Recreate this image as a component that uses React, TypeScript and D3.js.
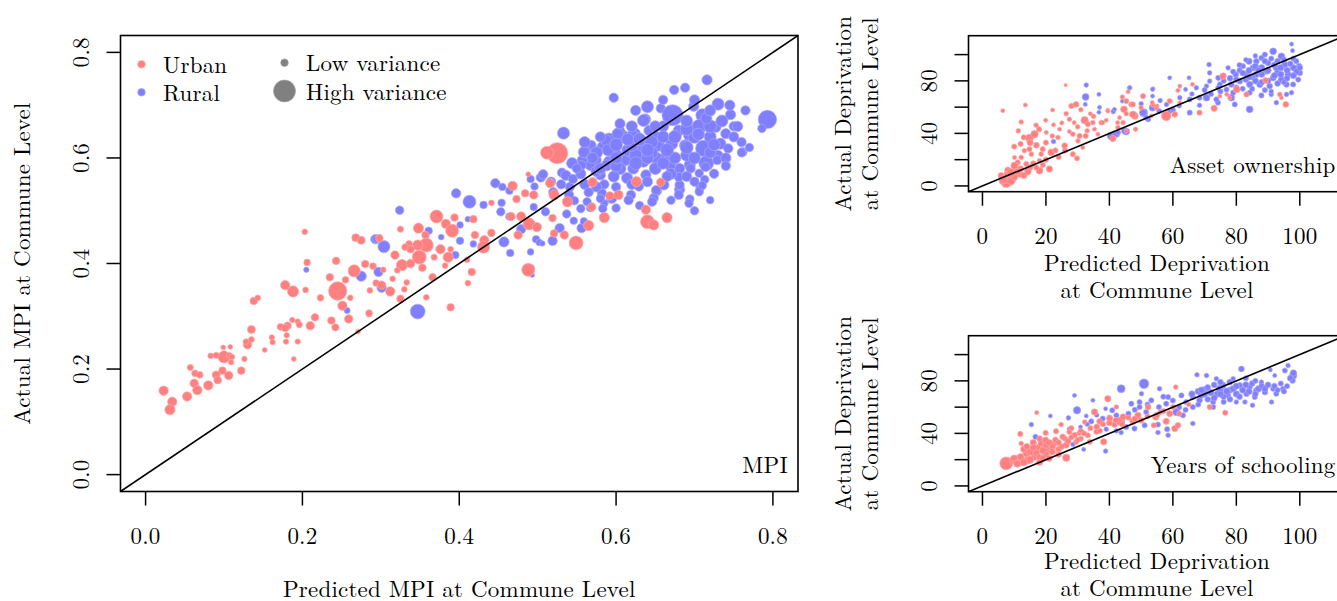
import React from "react";
import * as d3 from "d3";

// [predicted, actual, variance(0..1)]
const mpiUrban: number[][] = [
  [0.203,0.46,0.1],[0.268,0.449,0.22],[0.275,0.444,0.22],[0.206,0.402,0.15],[0.243,0.405,0.2],
  [0.28,0.399,0.2],[0.29,0.395,0.15],[0.266,0.386,0.45],[0.178,0.359,0.3],[0.188,0.347,0.4],
  [0.204,0.35,0.1],[0.235,0.374,0.2],[0.255,0.369,0.15],[0.245,0.348,0.8],[0.223,0.335,0.15],
  [0.261,0.335,0.1],[0.251,0.32,0.3],[0.259,0.295,0.25],[0.285,0.304,0.1],[0.294,0.363,0.15],
  [0.286,0.349,0.1],[0.271,0.271,0.05],[0.138,0.329,0.2],[0.143,0.335,0.1],[0.135,0.275,0.22],
  [0.13,0.246,0.25],[0.128,0.252,0.1],[0.135,0.256,0.1],[0.187,0.293,0.08],[0.194,0.29,0.08],
  [0.196,0.284,0.12],[0.181,0.282,0.2],[0.172,0.28,0.15],[0.178,0.278,0.2],[0.18,0.264,0.08],
  [0.161,0.26,0.08],[0.162,0.251,0.08],[0.179,0.252,0.08],[0.194,0.252,0.08],[0.152,0.236,0.05],
  [0.189,0.219,0.05],[0.216,0.298,0.2],[0.21,0.282,0.25],[0.237,0.292,0.2],[0.242,0.279,0.18],
  [0.1,0.223,0.45],[0.083,0.225,0.1],[0.09,0.226,0.12],[0.099,0.241,0.05],[0.108,0.242,0.05],
  [0.107,0.226,0.1],[0.11,0.223,0.1],[0.109,0.213,0.08],[0.126,0.219,0.08],[0.122,0.197,0.2],
  [0.106,0.188,0.25],[0.098,0.197,0.2],[0.09,0.189,0.22],[0.092,0.179,0.2],[0.057,0.203,0.12],
  [0.063,0.192,0.15],[0.069,0.189,0.15],[0.062,0.173,0.25],[0.066,0.16,0.3],[0.08,0.169,0.3],
  [0.053,0.148,0.3],[0.023,0.159,0.3],[0.034,0.138,0.3],[0.031,0.123,0.35],
  [0.525,0.609,0.95],[0.512,0.61,0.5],[0.488,0.569,0.05],[0.468,0.547,0.3],[0.516,0.552,0.3],
  [0.495,0.53,0.25],[0.484,0.533,0.2],[0.521,0.53,0.35],[0.473,0.522,0.2],[0.538,0.517,0.35],
  [0.441,0.515,0.1],[0.466,0.489,0.25],[0.479,0.489,0.3],[0.519,0.486,0.2],[0.489,0.475,0.45],
  [0.499,0.469,0.3],[0.475,0.454,0.25],[0.521,0.457,0.2],[0.534,0.454,0.25],[0.549,0.439,0.55],
  [0.488,0.388,0.5],[0.371,0.489,0.5],[0.394,0.487,0.2],[0.383,0.475,0.3],[0.418,0.484,0.2],
  [0.391,0.462,0.5],[0.348,0.467,0.35],[0.357,0.454,0.2],[0.325,0.465,0.12],[0.358,0.435,0.55],
  [0.347,0.435,0.35],[0.349,0.412,0.55],[0.336,0.437,0.15],[0.331,0.431,0.15],[0.338,0.427,0.2],
  [0.318,0.416,0.25],[0.327,0.397,0.4],[0.338,0.4,0.25],[0.376,0.427,0.3],[0.386,0.412,0.35],
  [0.389,0.427,0.1],[0.368,0.412,0.12],[0.42,0.454,0.2],[0.432,0.444,0.3],[0.431,0.431,0.45],
  [0.441,0.458,0.2],[0.41,0.407,0.1],[0.416,0.384,0.2],[0.411,0.363,0.1],[0.389,0.317,0.2],
  [0.358,0.336,0.1],[0.366,0.374,0.2],[0.353,0.392,0.2],[0.382,0.396,0.1],[0.303,0.388,0.1],
  [0.321,0.387,0.1],[0.315,0.371,0.1],[0.333,0.364,0.1],[0.301,0.359,0.25],[0.312,0.347,0.3],
  [0.325,0.333,0.2],[0.33,0.351,0.1],[0.298,0.448,0.2],[0.285,0.306,0.15],
  [0.57,0.554,0.3],[0.626,0.555,0.35],[0.657,0.554,0.25],[0.592,0.528,0.25],[0.603,0.53,0.3],
  [0.569,0.507,0.25],[0.638,0.502,0.3],[0.64,0.479,0.55],[0.648,0.473,0.35],[0.665,0.487,0.35],
  [0.585,0.487,0.35],[0.565,0.472,0.35]
];

const mpiRural: number[][] = [
  [0.205,0.388,0.08],[0.275,0.376,0.35],[0.257,0.311,0.12],[0.293,0.446,0.3],[0.297,0.384,0.3],
  [0.413,0.517,0.5],[0.396,0.533,0.3],[0.324,0.501,0.25],[0.446,0.552,0.3],[0.455,0.545,0.2],
  [0.464,0.538,0.2],[0.431,0.511,0.2],[0.454,0.515,0.2],[0.453,0.498,0.25],[0.464,0.489,0.2],
  [0.479,0.465,0.3],[0.457,0.441,0.35],[0.465,0.42,0.2],[0.491,0.422,0.15],[0.498,0.446,0.2],
  [0.502,0.44,0.15],[0.519,0.443,0.3],[0.528,0.467,0.3],[0.51,0.498,0.25],[0.495,0.507,0.2],
  [0.537,0.494,0.25],[0.546,0.481,0.2],[0.556,0.467,0.3],[0.493,0.378,0.05],[0.491,0.391,0.2],
  [0.411,0.484,0.1],[0.401,0.473,0.15],[0.377,0.45,0.1],[0.361,0.462,0.2],[0.401,0.443,0.2],
  [0.418,0.437,0.15],[0.395,0.416,0.2],[0.304,0.432,0.45],[0.294,0.446,0.2],[0.301,0.354,0.3],
  [0.347,0.309,0.6],[0.504,0.563,0.3],[0.491,0.56,0.2],[0.496,0.546,0.2],[0.531,0.572,0.3],
  [0.541,0.545,0.3],[0.547,0.519,0.25],[0.555,0.504,0.25],[0.506,0.438,0.08],
  [0.597,0.714,0.3],[0.716,0.748,0.35],[0.688,0.733,0.3],[0.674,0.729,0.3],[0.793,0.673,0.8],
  [0.786,0.656,0.25],[0.64,0.697,0.45],[0.657,0.694,0.3],[0.672,0.681,0.95],[0.699,0.698,0.35],
  [0.73,0.702,0.45],[0.746,0.682,0.35],[0.637,0.673,0.4],[0.71,0.681,0.5],[0.727,0.659,0.4],
  [0.74,0.646,0.35],[0.706,0.659,0.6],[0.693,0.643,0.4],[0.68,0.652,0.4],[0.651,0.64,0.4],
  [0.642,0.652,0.35],[0.624,0.646,0.4],[0.61,0.64,0.45],[0.591,0.634,0.55],[0.605,0.65,0.35],
  [0.583,0.621,0.4],[0.568,0.624,0.35],[0.561,0.615,0.35],[0.557,0.596,0.35],[0.574,0.596,0.4],
  [0.591,0.593,0.4],[0.611,0.596,0.45],[0.615,0.615,0.45],[0.633,0.621,0.45],[0.654,0.624,0.45],
  [0.671,0.627,0.45],[0.688,0.624,0.4],[0.712,0.618,0.7],[0.733,0.627,0.4],[0.743,0.618,0.3],
  [0.761,0.611,0.3],[0.73,0.605,0.35],[0.715,0.59,0.6],[0.694,0.587,0.4],[0.681,0.58,0.35],
  [0.669,0.586,0.4],[0.652,0.599,0.45],[0.635,0.593,0.4],[0.622,0.58,0.4],[0.605,0.58,0.45],
  [0.588,0.586,0.4],[0.567,0.586,0.35],[0.556,0.586,0.3],[0.58,0.568,0.35],[0.597,0.565,0.4],
  [0.614,0.562,0.4],[0.638,0.568,0.35],[0.661,0.549,0.35],[0.706,0.571,0.25],[0.713,0.559,0.25],
  [0.707,0.543,0.25],[0.681,0.54,0.35],[0.681,0.549,0.3],[0.694,0.522,0.25],[0.652,0.537,0.3],
  [0.648,0.524,0.3],[0.629,0.546,0.3],[0.619,0.53,0.3],[0.593,0.522,0.25],[0.582,0.533,0.3],
  [0.563,0.517,0.25],[0.567,0.505,0.2],[0.585,0.514,0.2],[0.559,0.48,0.2],
  [0.533,0.647,0.45],[0.507,0.569,0.3],[0.517,0.555,0.3],[0.536,0.567,0.35],[0.544,0.59,0.4],
  [0.559,0.611,0.4],[0.587,0.634,0.4],[0.602,0.646,0.4],[0.621,0.643,0.4],[0.635,0.671,0.45],
  [0.729,0.596,0.3],[0.714,0.583,0.3],[0.695,0.58,0.3],[0.68,0.564,0.3],[0.693,0.514,0.25],
  [0.68,0.53,0.3],[0.706,0.536,0.25],[0.71,0.548,0.25],[0.651,0.539,0.3],[0.646,0.517,0.3],
  [0.616,0.52,0.3],[0.583,0.504,0.25],[0.595,0.523,0.3],[0.58,0.523,0.25],
  [0.6,0.605,0.5],[0.625,0.605,0.5],[0.645,0.61,0.5],[0.665,0.605,0.45],[0.69,0.605,0.45],
  [0.7,0.64,0.5],[0.72,0.64,0.45],[0.575,0.575,0.4],[0.62,0.625,0.5],[0.66,0.66,0.4],
  [0.75,0.66,0.3],[0.76,0.63,0.3],[0.765,0.69,0.3],[0.585,0.55,0.3],[0.6,0.545,0.3],
  [0.65,0.58,0.45],[0.67,0.57,0.4],
  [0.56,0.63,0.4],[0.575,0.61,0.45],[0.59,0.615,0.45],[0.6,0.625,0.5],[0.615,0.635,0.45],
  [0.63,0.635,0.5],[0.645,0.63,0.5],[0.66,0.64,0.45],[0.675,0.64,0.5],[0.69,0.655,0.5],
  [0.705,0.645,0.45],[0.72,0.66,0.5],[0.735,0.67,0.45],[0.715,0.675,0.4],[0.69,0.67,0.45],
  [0.65,0.66,0.4],[0.62,0.66,0.4],[0.605,0.665,0.35],[0.58,0.64,0.35],[0.57,0.6,0.4],
  [0.6,0.585,0.45],[0.625,0.59,0.5],[0.64,0.6,0.45],[0.66,0.59,0.45],[0.675,0.6,0.45],
  [0.7,0.6,0.45],[0.72,0.61,0.4],[0.74,0.6,0.35],[0.75,0.64,0.35],[0.725,0.625,0.45],
  [0.69,0.62,0.5],[0.665,0.615,0.5],[0.64,0.615,0.5],[0.6,0.6,0.45],[0.58,0.58,0.4],
  [0.555,0.57,0.35],[0.545,0.56,0.3],[0.53,0.55,0.3],[0.52,0.535,0.3],[0.54,0.53,0.3],
  [0.56,0.55,0.35],[0.575,0.545,0.35],[0.62,0.55,0.35],[0.64,0.555,0.35],[0.665,0.565,0.35],
  [0.69,0.565,0.35],[0.7,0.555,0.3],[0.725,0.57,0.3],[0.74,0.585,0.3],[0.72,0.69,0.4],
  [0.745,0.7,0.35],[0.7,0.71,0.35],[0.66,0.71,0.3],[0.625,0.69,0.35],[0.55,0.58,0.3],
  [0.565,0.535,0.3],[0.6,0.505,0.25],[0.63,0.51,0.25],[0.67,0.52,0.25],[0.7,0.5,0.25],
  [0.72,0.52,0.2],[0.755,0.66,0.35],[0.76,0.61,0.25],[0.77,0.62,0.25]
];

const assetUrban: number[][] = [
  [6.4,57.3,0.1],[26.2,76.8,0.02],[13.5,61.6,0.1],[12.2,48.7,0.15],[11.3,41.9,0.15],[16.9,46.2,0.15],
  [17.8,43.2,0.2],[14.8,36.4,0.45],[16.4,39.4,0.4],[19.9,50,0.1],[22.1,57.8,0.1],[22.4,46.5,0.1],
  [20.1,40.7,0.1],[24.3,43.2,0.1],[27.4,41.4,0.1],[26.4,55,0.15],[28,60.9,0.2],[29.5,62.1,0.25],
  [27.4,50.8,0.15],[28.9,48.2,0.1],[23.8,36.9,0.15],[25.9,30.6,0.25],[28.5,39.4,0.15],[30.6,38.1,0.2],
  [32.5,38.1,0.2],[30.1,34.3,0.15],[32.2,50,0.4],[33.2,47,0.2],[34.8,48.2,0.15],[37.4,48.2,0.15],
  [35.3,43.2,0.1],[36.4,39.4,0.1],[31.6,29.3,0.1],[28.5,24.2,0.2],[29.8,21,0.2],[21.7,25.5,0.35],
  [18.5,24.2,0.15],[14.8,28,0.2],[13.2,26.8,0.15],[15.4,24.2,0.15],[12.2,21.7,0.15],[10.1,21.7,0.1],
  [11.1,17.9,0.2],[13.8,16.7,0.2],[18,19.2,0.15],[18,11.6,0.35],[14.3,10.9,0.35],[11.7,9.1,0.3],
  [10.1,15.4,0.4],[8.5,6.6,0.9],[7.5,2.8,0.7],[6.4,4,0.4],[5.9,7.8,0.3],[21.1,12.9,0.3],
  [39.5,57.6,0.1],[44.1,67.7,0.15],[44.6,58.3,0.35],[45.3,64.6,0.2],[45.9,71.7,0.1],[46.9,62.1,0.2],
  [48,53.3,0.35],[50.6,68.4,0.2],[50,59.6,0.15],[44.3,48.2,0.15],[42.7,44.4,0.15],[45.3,41.9,0.1],
  [48.2,43.2,0.1],[53.7,61.6,0.15],[53.2,53.3,0.1],[55,60.9,0.1],[39,50,0.1],[43.2,52,0.1],
  [75.8,83.6,0.3],[80.1,73.5,0.35],[83.2,69.7,0.2],[89.2,80.3,0.25],[94.2,67.2,0.1],[95.6,62.1,0.25],
  [73,59.1,0.3],[68.4,55.8,0.2],[62.2,76,0.1],[66.2,77.3,0.1],[62.2,63.4,0.1],[59,64.6,0.2],
  [61.6,72.7,0.1],[57.9,53.3,0.6],[60.6,54.5,0.25],[47.4,62.1,0.2],[47.4,54.5,0.35],[45.3,55,0.15],
  [39.5,57,0.1],[37.9,48.2,0.1],[42.6,48.2,0.1],[41.1,36.1,0.3],[48.3,43.2,0.1],[77,69.7,0.1],
  [78,67.2,0.1],[74.8,68.4,0.1],[93.7,69.7,0.15],[53.5,63.4,0.1],[54.8,59.1,0.1],
  [7,5,0.5],[8,9,0.4],[9,4,0.5],[10,7,0.4],[8,12,0.3],[12,13,0.3],[13,8,0.3],[9,10,0.5],
  [11,11,0.3],[15,14,0.25],[16,17,0.25],[17,14,0.2],[19,16,0.2],[20,20,0.2],[19,28,0.2],
  [23,27,0.2],[24,22,0.2],[26,27,0.2],[17,31,0.25],[15,33,0.3],[20,33,0.2],[22,38,0.15],
  [13,37,0.2],[10,30,0.2],[12,32,0.2],[25,48,0.1],[30,45,0.15],[33,42,0.15],[35,53,0.15],
  [34,55,0.1],[31,58,0.15]
];

const assetRural: number[][] = [
  [32.7,76.8,0.15],[32.5,67.7,0.35],[32.4,62.1,0.1],[36.7,69.7,0.1],[36.9,59.8,0.1],[36.7,56.1,0.1],
  [41.2,56.6,0.15],[18,42.7,0.1],[22.4,33.8,0.15],[40.6,38.1,0.45],[42.2,39.4,0.3],[45.3,41.4,0.35],
  [46.4,74.7,0.15],[44.1,64.6,0.1],[50,62.6,0.15],[50.8,55.8,0.45],[52.2,50.8,0.2],[53.5,59.6,0.2],
  [53.7,74,0.1],
  [97.4,108,0.1],[97.7,103,0.1],[91.6,102.5,0.35],[94.2,98.7,0.35],[98.9,95,0.2],[99.8,91.2,0.25],
  [100,86.1,0.25],[99.5,81,0.2],[97.9,77.3,0.2],[96.3,84.8,0.3],[95.3,92.4,0.3],[92.6,89.9,0.3],
  [90,93.7,0.25],[87.9,97.5,0.2],[86.3,94.9,0.25],[84,94.9,0.3],[85.3,89.9,0.3],[82.1,91.2,0.2],
  [79.8,84.8,0.25],[83.2,84.8,0.3],[86.3,84.8,0.3],[89.5,87.4,0.3],[91.6,82.3,0.3],[94.2,81,0.3],
  [95.8,77.3,0.25],[90.5,76,0.25],[87.4,77.3,0.3],[84.2,77.3,0.3],[81.1,79.8,0.25],[78.4,77.3,0.25],
  [74.8,77.3,0.2],[71.6,79.8,0.15],[71.6,86.1,0.15],[71.4,92.4,0.15],[77.4,89.9,0.15],[74.3,82.3,0.2],
  [67.4,74.7,0.15],[64,73.5,0.1],[59,82.3,0.1],[65.1,82.3,0.1],[70.6,76,0.15],[74.3,74.7,0.2],
  [76.9,73.5,0.2],[79,71,0.2],[84.2,71,0.2],[87.9,68.9,0.2],[91,69.7,0.15],[95.8,69.7,0.15],
  [97.4,71,0.15],[92.6,63.4,0.15],[84.2,58.3,0.35],[79.5,62.1,0.2],[78.4,67.2,0.35],[74.2,63.4,0.2],
  [73.7,65.9,0.2],[70.6,67.2,0.35],[68.4,67.2,0.2],[65.3,65.9,0.2],[62.2,67.2,0.15],[68.4,61.4,0.15],
  [65.3,55.8,0.2],[59,57,0.2],[55.7,57,0.2],[53.6,59.6,0.35],[50.6,55.8,0.35],[51.6,52,0.2],
  [53.6,68.4,0.1],[46.4,74.7,0.1],[53.6,73.5,0.1],[41.6,58.3,0.1],[42.7,40.7,0.2],[44.8,41.9,0.3],
  [88,90,0.3],[93,86,0.3],[81,88,0.2],[76,80,0.2],
  [82,86,0.25],[84,88,0.3],[86,91,0.3],[88,85,0.3],[90,88,0.3],[92,92,0.3],[94,90,0.3],[96,88,0.3],
  [98,90,0.3],[99,87,0.3],[97,93,0.25],[95,96,0.25],[93,95,0.25],[91,97,0.2],[89,95,0.25],[87,88,0.3],
  [85,83,0.3],[83,81,0.25],[80,81,0.25],[78,82,0.25],[76,84,0.2],[79,87,0.2],[81,92,0.2],[83,96,0.15],
  [86,99,0.15],[89,100,0.2],[92,84,0.3],[94,85,0.3],[96,82,0.25],[98,84,0.3],[100,90,0.25],[98,97,0.2],
  [90,80,0.25],[88,79,0.25],[86,80,0.3],[84,83,0.3],[95,79,0.2],[93,78,0.25],[70,73,0.2],[72,70,0.2],
  [75,72,0.2],[66,70,0.15],[62,61,0.15],[58,62,0.15],[56,65,0.15],[60,58,0.2],[80,75,0.2],[82,74,0.2],
  [85,74,0.2],[89,73,0.2],[91,72,0.15]
];

const schoolUrban: number[][] = [
  [7.5,17.2,0.9],[9.6,19.7,0.4],[11.9,39.6,0.2],[12.2,32.3,0.15],[13.8,24.7,0.35],[14.3,19.7,0.45],
  [16.4,22.2,0.35],[17.5,28.5,0.45],[18.5,32.3,0.3],[17.1,55.8,0.1],[19.9,40.4,0.2],[19.9,34.8,0.3],
  [21.1,27.3,0.35],[22.7,32.3,0.25],[23.2,41.7,0.2],[24.8,46.7,0.15],[25.3,37.4,0.25],[26.4,31.1,0.3],
  [26.4,21.5,0.4],[27.4,41.2,0.2],[29,38.6,0.25],[29.5,33.6,0.2],[30.6,40.4,0.2],[32.2,48.7,0.15],
  [33.2,38.6,0.2],[33.8,33.6,0.2],[35.3,56.3,0.3],[35.9,41.2,0.2],[36.9,49.2,0.25],[38.2,33.6,0.3],
  [39.5,66.4,0.3],[40.1,51.3,0.3],[41.6,46.7,0.25],[42.2,60.1,0.15],[43.2,49.2,0.45],[44.3,52.5,0.3],
  [47.4,49.2,0.3],[49,53.8,0.3],[52.2,60.1,0.25],[54.6,52.5,0.3],[57.9,49.2,0.3],[60.9,75.3,0.15],
  [60.6,43.7,0.3],[61.6,46.2,0.25],[59,55.1,0.3],[60.1,60.1,0.2],[71.6,60.1,0.2],[76.5,55.8,0.2],
  [54,46.2,0.2],[56.1,56.3,0.2],[15,26,0.35],[20,24,0.3],[22,30,0.3],[18,36,0.25],[24,28,0.25],
  [16,33,0.3],[20,29,0.35],[28,44,0.2],[31,36,0.2],[37,42,0.2],
  [12,22,0.35],[13,28,0.3],[14,30,0.3],[15,20,0.4],[16,29,0.35],[17,25,0.35],[18,22,0.3],[19,27,0.35],
  [20,31,0.3],[21,33,0.3],[22,26,0.3],[23,35,0.25],[24,33,0.25],[25,30,0.25],[26,36,0.2],[27,34,0.25],
  [28,37,0.2],[30,35,0.2],[31,42,0.2],[32,40,0.2],[34,44,0.2],[36,45,0.25],[38,47,0.2],[40,48,0.25],
  [42,50,0.25],[44,47,0.2],[46,52,0.2],[48,51,0.25],[50,50,0.25],[52,53,0.2],[55,54,0.25],[57,57,0.2],
  [62,55,0.2],[65,62,0.15],[10,21,0.35],[11,17,0.4],[13,18,0.4],[18,18,0.3],[19,21,0.3],[21,21,0.3],
  [24,24,0.25]
];

const schoolRural: number[][] = [
  [29,68.9,0.1],[29.8,57.6,0.4],[43.7,74,0.45],[50.9,77.8,0.6],[55.8,74,0.15],[50.1,70.2,0.15],
  [53.2,65.2,0.2],[46.9,62.6,0.2],[49.5,60.1,0.2],[51.6,56.3,0.2],[55.6,60.1,0.2],[34.8,65.2,0.1],
  [38.8,58.8,0.1],[15.4,46.7,0.15],[16.7,37.4,0.2],[21.4,53.3,0.1],[27.1,51.8,0.15],[32.7,53.3,0.1],
  [30.9,44.9,0.1],[31.9,27.8,0.1],[38.8,26.5,0.15],[39,43.2,0.15],[43.7,40.7,0.15],[45.3,44.9,0.2],
  [47.9,43.7,0.2],[51.1,46.2,0.2],[55.3,40.7,0.15],[58.5,38.6,0.15],[61.1,56.3,0.4],[63.2,53.8,0.2],
  [66.3,47.5,0.15],[64.2,63.9,0.2],[66.3,67.7,0.2],[67.6,84.6,0.15],[70.6,84.1,0.15],[73.7,81.6,0.15],
  [70,72.7,0.45],[68.4,65.2,0.25],[72.7,63.9,0.2],[74.8,74,0.4],[79,81.6,0.15],[81.6,89.1,0.25],
  [81.1,76.5,0.25],[77.4,68.9,0.2],[80,63.9,0.15],[83.2,70.2,0.25],[84.2,75.3,0.25],[85.8,67.7,0.2],
  [87.9,79,0.15],[90.7,88.4,0.1],[92.1,84.1,0.1],[95.3,87.9,0.2],[96.3,91.7,0.15],[97.9,84.1,0.4],
  [97.7,80.3,0.25],[94.7,74,0.2],[91.6,74,0.2],[89,71.5,0.25],[92.6,70.2,0.2],[86.3,72.7,0.25],
  [82.7,63.9,0.15],[85.1,61.4,0.15],[91.1,63.9,0.15],[71.6,71.5,0.3],[75.8,76.5,0.3],[77.9,79,0.25],
  [72.7,60.1,0.2],[66.3,60.1,0.2],[62.7,68.9,0.2],[58.5,67.7,0.2],[57.9,62.6,0.2],[49.5,63.9,0.2],
  [42.2,53.8,0.2],[40.9,57.6,0.2],[37.9,51.3,0.2],[34.3,49.2,0.2],[27.4,43.2,0.15],[28.5,31.6,0.15],
  [42.2,41.9,0.15],[58.2,43.2,0.2],[55.3,46.7,0.2],[74,70,0.3],[78,73,0.3],[80,70,0.3],[76,68,0.25],
  [69,69,0.3],[83,77,0.3],[87,74,0.3],
  [66,70,0.3],[68,72,0.3],[70,70,0.3],[72,71,0.3],[73,67,0.3],[75,70,0.3],[77,72,0.35],[79,74,0.3],
  [80,76,0.3],[82,73,0.3],[84,72,0.3],[85,78,0.25],[86,70,0.25],[88,76,0.25],[89,74,0.3],[90,77,0.25],
  [92,76,0.25],[93,73,0.2],[94,78,0.2],[95,72,0.2],[96,76,0.2],[97,82,0.25],[98,86,0.3],[76,64,0.2],
  [78,66,0.25],[81,68,0.25],[71,66,0.25],[68,62,0.2],[64,58,0.2],[62,60,0.2],[60,65,0.2],[57,68,0.2],
  [52,62,0.2],[48,58,0.2],[46,55,0.2],[44,49,0.2],[40,52,0.2],[36,54,0.15],[33,47,0.15],[73,77,0.25],
  [75,79,0.25],[71,75,0.25],[69,73,0.3],[83,82,0.2],[86,80,0.2]
];

const mpiTicks = [0, 0.2, 0.4, 0.6, 0.8];
const depTicks = [0, 20, 40, 60, 80, 100];
const depYLabels = [0, 40, 80];

const FONT = "'Latin Modern Roman', 'CMU Serif', 'Liberation Serif', serif";
const FS = 23;
const LS = 0.2;
const RED = "#ff8080", RED_RING = "#ffa8a8";
const BLUE = "#8080ff", BLUE_RING = "#a8a8ff";

type PanelProps = {
  id: string;
  left: number; right: number; top: number; bottom: number;
  domain: [number, number];
  xTicks: number[]; yTicks: number[]; yLabels: number[];
  fmt: (v: number) => string;
  urban: number[][]; rural: number[][];
  rRange: [number, number];
  label: string;
  xTitle: string[]; yTitle: string[];
  titleBase: number;
};

function Panel(p: PanelProps) {
  const x = d3.scaleLinear().domain(p.domain).range([p.left, p.right]);
  const y = d3.scaleLinear().domain(p.domain).range([p.bottom, p.top]);
  const r = d3.scaleLinear().domain([0, 1]).range(p.rRange);
  const txt = { fontFamily: FONT, fontSize: FS, letterSpacing: LS, fill: "#000" } as const;
  const diag = d3.line<number>().x((d) => x(d)).y((d) => y(d));
  const dot = (d: number[], fill: string, ring: string, k: string) => (
    <circle key={k} cx={x(d[0])} cy={y(d[1])} r={r(d[2])} fill={fill} stroke={ring} strokeWidth={0.7} />
  );
  const ymid = (p.top + p.bottom) / 2;
  const xmid = (p.left + p.right) / 2;
  return (
    <g>
      <defs>
        <clipPath id={p.id}>
          <rect x={p.left} y={p.top} width={p.right - p.left} height={p.bottom - p.top} />
        </clipPath>
      </defs>
      <g clipPath={`url(#${p.id})`}>
        {p.rural.map((d, i) => dot(d, BLUE, BLUE_RING, "b" + i))}
        {p.urban.map((d, i) => dot(d, RED, RED_RING, "r" + i))}
        <path d={diag(p.domain) || ""} stroke="#000" strokeWidth={1.6} fill="none" />
      </g>
      <rect x={p.left} y={p.top} width={p.right - p.left} height={p.bottom - p.top}
        fill="none" stroke="#000" strokeWidth={1.6} />
      {p.xTicks.map((t) => (
        <g key={"xt" + t}>
          <line x1={x(t)} x2={x(t)} y1={p.bottom} y2={p.bottom + 14} stroke="#000" strokeWidth={1.5} />
          <text x={x(t)} y={p.bottom + 52.5} textAnchor="middle" {...txt}>{p.fmt(t)}</text>
        </g>
      ))}
      {p.yTicks.map((t) => (
        <line key={"yt" + t} x1={p.left - 14} x2={p.left} y1={y(t)} y2={y(t)} stroke="#000" strokeWidth={1.5} />
      ))}
      {p.yLabels.map((t) => (
        <text key={"yl" + t} transform={`translate(${p.left - 32},${y(t)}) rotate(-90)`}
          textAnchor="middle" {...txt}>{p.fmt(t)}</text>
      ))}
      {p.xTitle.map((s, i) => (
        <text key={"xT" + i} x={xmid} y={p.bottom + p.titleBase - (p.xTitle.length - 1 - i) * 26.5}
          textAnchor="middle" {...txt}>{s}</text>
      ))}
      {p.yTitle.map((s, i) => (
        <text key={"yT" + i}
          transform={`translate(${p.left - 91 - (p.yTitle.length - 1 - i) * 27},${ymid}) rotate(-90)`}
          textAnchor="middle" {...txt}>{s}</text>
      ))}
      <text x={p.right - 10} y={p.bottom - 19} textAnchor="end" {...txt}>{p.label}</text>
    </g>
  );
}

export default function App() {
  const txt = { fontFamily: FONT, fontSize: FS, letterSpacing: LS, fill: "#000" } as const;
  const rMain = d3.scaleLinear().domain([0, 1]).range([2, 11]);
  return (
    <svg width={1337} height={601} style={{ position: "absolute", left: 0, top: 0, background: "#fff" }}>
      <Panel id="cMain" left={120.5} right={798} top={35.5} bottom={491.5}
        domain={[-0.032, 0.832]} xTicks={mpiTicks} yTicks={mpiTicks} yLabels={mpiTicks}
        fmt={(v) => v.toFixed(1)} urban={mpiUrban} rural={mpiRural} rRange={[2, 11]}
        label="MPI" xTitle={["Predicted MPI at Commune Level"]} yTitle={["Actual MPI at Commune Level"]}
        titleBase={105} />
      <Panel id="cAsset" left={968.5} right={1345.5} top={35.7} bottom={191.7}
        domain={[-4.4, 114.4]} xTicks={depTicks} yTicks={depTicks} yLabels={depYLabels}
        fmt={(v) => String(v)} urban={assetUrban} rural={assetRural} rRange={[1.5, 7]}
        label="Asset ownership" xTitle={["Predicted Deprivation", "at Commune Level"]}
        yTitle={["Actual Deprivation", "at Commune Level"]} titleBase={106} />
      <Panel id="cSchool" left={968.5} right={1345.5} top={335.7} bottom={491.7}
        domain={[-4.4, 114.4]} xTicks={depTicks} yTicks={depTicks} yLabels={depYLabels}
        fmt={(v) => String(v)} urban={schoolUrban} rural={schoolRural} rRange={[1.5, 7]}
        label="Years of schooling" xTitle={["Predicted Deprivation", "at Commune Level"]}
        yTitle={["Actual Deprivation", "at Commune Level"]} titleBase={104} />
      {/* legend */}
      <circle cx={141.5} cy={64.3} r={rMain(0.2)} fill={RED} stroke={RED_RING} strokeWidth={0.7} />
      <text x={163} y={72.5} {...txt}>Urban</text>
      <circle cx={141.5} cy={92.3} r={rMain(0.2)} fill={BLUE} stroke={BLUE_RING} strokeWidth={0.7} />
      <text x={163} y={100.5} {...txt}>Rural</text>
      <circle cx={284.5} cy={62.7} r={rMain(0.2)} fill="#808080" stroke="#a6a6a6" strokeWidth={0.7} />
      <text x={306} y={71} {...txt}>Low variance</text>
      <circle cx={284.5} cy={91} r={rMain(1)} fill="#808080" stroke="#a6a6a6" strokeWidth={0.7} />
      <text x={306} y={99.5} {...txt}>High variance</text>
    </svg>
  );
}
